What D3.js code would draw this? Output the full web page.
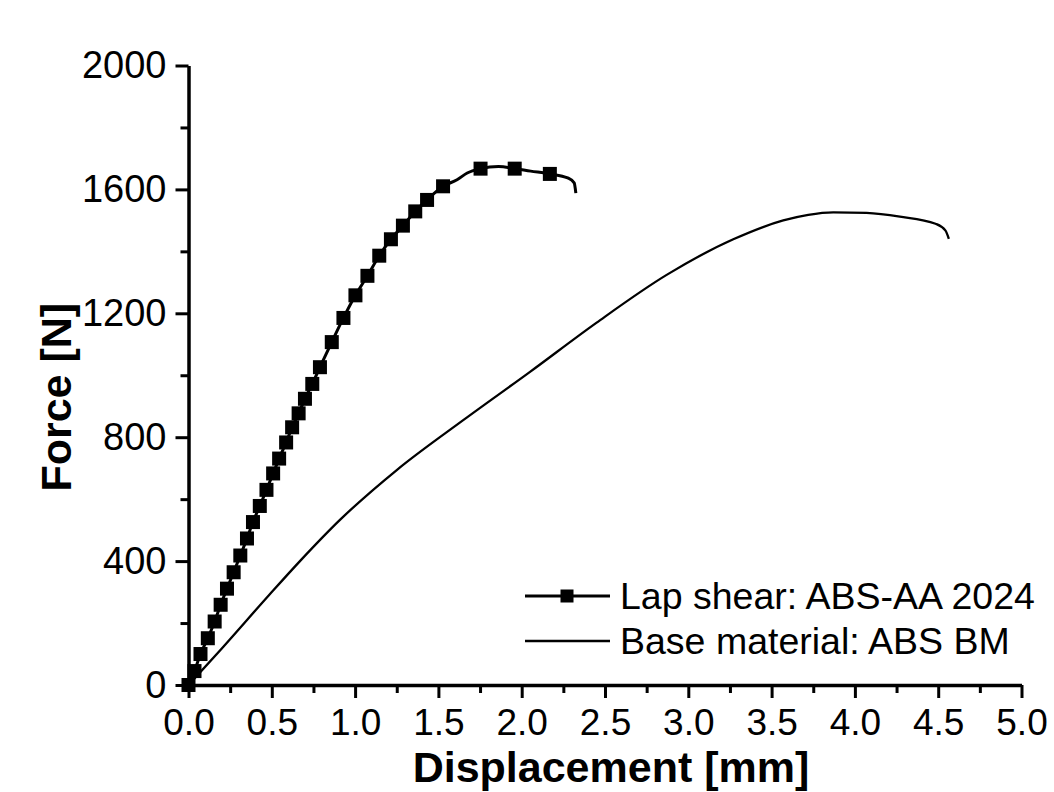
<!DOCTYPE html>
<html>
<head>
<meta charset="utf-8">
<script src="https://cdn.jsdelivr.net/npm/d3@7"></script>
<style>
  body { margin: 0; background: #fff; }
  svg { display: block; font-family: Arial, "Liberation Sans", sans-serif; }
</style>
</head>
<body>
<svg id="chart" width="1054" height="792"></svg>
<script>
// lap shear markers (Displacement mm, Force N)
const lapMarkX = [0, 0.036, 0.072, 0.116, 0.157, 0.193, 0.231, 0.271, 0.311, 0.351, 0.387,
  0.428, 0.468, 0.508, 0.544, 0.586, 0.622, 0.661, 0.699, 0.743, 0.789, 0.86, 0.93,
  1.002, 1.074, 1.145, 1.215, 1.287, 1.361, 1.432, 1.528, 1.753, 1.958, 2.169]
const lapMarkY = [0, 45, 100, 151, 205, 259, 311, 364, 418, 473, 526,
  578, 630, 683, 731, 783, 832, 877, 924, 972, 1026, 1107, 1185,
  1258, 1321, 1386, 1439, 1483, 1529, 1566, 1610, 1667, 1667, 1650]
// extra line points without markers
const lapLineX = [1.612, 1.673, 1.861, 2.054, 2.276, 2.315, 2.325]
const lapLineY = [1631, 1653, 1674, 1659, 1637, 1621, 1588]

// base material
const bmX = [0, 0.2, 0.488, 0.669, 0.909, 1.25, 1.649, 2.05, 2.45, 2.87, 3.27,
  3.57, 3.72, 3.87, 4.07, 4.27, 4.484, 4.544, 4.564]
const bmY = [0, 118, 293, 400, 533, 694, 855, 1011, 1170, 1324, 1439,
  1500, 1518, 1526, 1524, 1512, 1489, 1467, 1440]

const xTicks = [0, 0.5, 1, 1.5, 2, 2.5, 3, 3.5, 4, 4.5, 5]
const yTicks = [0, 400, 800, 1200, 1600, 2000]
const legendLabels = ['Lap shear: ABS-AA 2024', 'Base material: ABS BM']

const svg = d3.select('#chart')
const mLeft = 188.5, mTop = 65.5, mRight = 1021.5, mBottom = 685

const x = d3.scaleLinear().domain([0, 5]).range([mLeft, mRight])
const y = d3.scaleLinear().domain([0, 2000]).range([mBottom, mTop])

const zip = (a, b) => a.map((v, i) => [v, b[i]])
const lapMarks = zip(lapMarkX, lapMarkY)
const lapLine = lapMarks.concat(zip(lapLineX, lapLineY)).sort((a, b) => a[0] - b[0])
const bm = zip(bmX, bmY)

const line = d3.line()
  .x(d => x(d[0]))
  .y(d => y(d[1]))
  .curve(d3.curveMonotoneX)

// axes
const styleAxis = (g, size) => {
  g.select('.domain').attr('stroke', '#000').attr('stroke-width', 3.5)
  g.selectAll('.tick line').attr('stroke', '#000').attr('stroke-width', 3)
  g.selectAll('.tick text').attr('font-size', size).attr('fill', '#000')
    .attr('font-family', 'Arial, "Liberation Sans", sans-serif')
}

const xMinor = d3.range(0.25, 5, 0.5)
svg.append('g').attr('transform', 'translate(0,' + mBottom + ')')
  .call(d3.axisBottom(x).tickValues(xMinor).tickSize(8).tickFormat('').tickSizeOuter(0))
  .call(g => { g.select('.domain').remove(); g.selectAll('.tick line').attr('stroke', '#000').attr('stroke-width', 3) })
svg.append('g').attr('transform', 'translate(0,' + mBottom + ')')
  .call(d3.axisBottom(x).tickValues(xTicks).tickSize(13).tickSizeOuter(0)
    .tickPadding(11).tickFormat(d3.format('.1f')))
  .call(g => styleAxis(g, 37))

const yMinor = d3.range(200, 2000, 400)
svg.append('g').attr('transform', 'translate(' + mLeft + ',0)')
  .call(d3.axisLeft(y).tickValues(yMinor).tickSize(8).tickFormat('').tickSizeOuter(0))
  .call(g => { g.select('.domain').remove(); g.selectAll('.tick line').attr('stroke', '#000').attr('stroke-width', 3) })
svg.append('g').attr('transform', 'translate(' + mLeft + ',0)')
  .call(d3.axisLeft(y).tickValues(yTicks).tickSize(13).tickSizeOuter(0)
    .tickPadding(9).tickFormat(d3.format('d')))
  .call(g => styleAxis(g, 38))

// axis titles
svg.append('text')
  .attr('x', 611).attr('y', 782)
  .attr('text-anchor', 'middle')
  .attr('font-size', 43).attr('font-weight', 'bold')
  .text('Displacement [mm]')
svg.append('text')
  .attr('transform', 'translate(71,' + ((mTop + mBottom) / 2 + 22) + ') rotate(-90)')
  .attr('text-anchor', 'middle')
  .attr('font-size', 43).attr('font-weight', 'bold')
  .text('Force [N]')

// curves
svg.append('path').datum(bm)
  .attr('d', line).attr('fill', 'none').attr('stroke', '#000').attr('stroke-width', 2.3)
svg.append('path').datum(lapLine)
  .attr('d', line).attr('fill', 'none').attr('stroke', '#000').attr('stroke-width', 3)
svg.append('g').selectAll('rect').data(lapMarks).join('rect')
  .attr('x', d => x(d[0]) - 7).attr('y', d => y(d[1]) - 7)
  .attr('width', 14).attr('height', 14).attr('fill', '#000')

// legend
const leg = svg.append('g')
legendLabels.forEach((label, i) => {
  const ly = 596 + i * 45
  leg.append('line').attr('x1', 525).attr('x2', 610).attr('y1', ly).attr('y2', ly)
    .attr('stroke', '#000').attr('stroke-width', i === 0 ? 3 : 2.3)
  if (i === 0) {
    leg.append('rect').attr('x', 560.5).attr('y', ly - 6.5).attr('width', 13).attr('height', 13).attr('fill', '#000')
  }
  leg.append('text').attr('x', 620).attr('y', ly + 13)
    .attr('font-size', 37.5).attr('fill', '#000').text(label)
})
</script>
</body>
</html>
